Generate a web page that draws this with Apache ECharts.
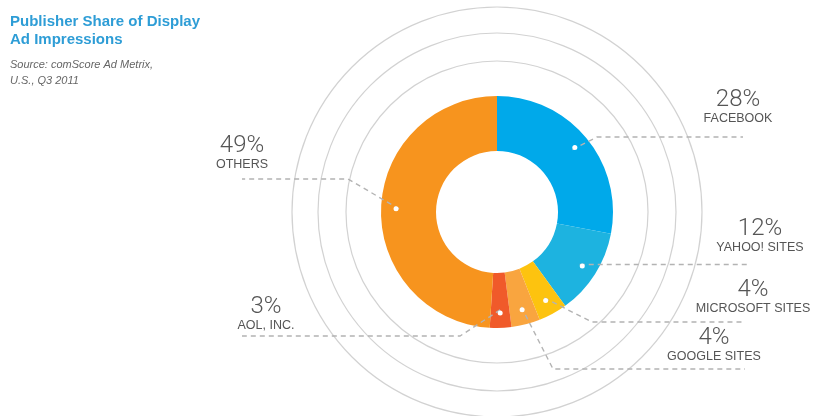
<!DOCTYPE html>
<html><head><meta charset="utf-8">
<script src="https://cdn.jsdelivr.net/npm/echarts@6/dist/echarts.min.js"></script>
<style>html,body{margin:0;padding:0;background:#fff}#c{width:814px;height:416px}</style>
</head><body><div id="c"></div>
<script>
const categories = ['FACEBOOK', 'YAHOO! SITES', 'MICROSOFT SITES', 'GOOGLE SITES', 'AOL, INC.', 'OTHERS'];
const shares = [28, 12, 4, 4, 3, 49];
const colors = ['#00A9EA', '#1DB3E0', '#FDC30F', '#F9A53F', '#F05A2A', '#F7941E'];

const CENTER = [497, 212];
const RADIUS = [61, 116];
const RING_RADII = [151, 179, 205];
// label layout offsets relative to the centre: [labelCenterX, labelBottomY, elbowX, lineY, lineEndX]
const LABEL_LAYOUT = [
  [241, -86, 100, -75, 246],
  [263, 43, null, null, 253],
  [256, 104, 95, 110, 248],
  [217, 152, 56, 157, 248],
  [-231, 121, -37, 124, -255],
  [-255, -40, -149, -33, -255]
];

const data = categories.map((c, i) => ({ name: c, value: shares[i], itemStyle: { color: colors[i] } }));
const ghost = categories.map((c, i) => ({ name: c, value: shares[i] }));

const chart = echarts.init(document.getElementById('c'), null, { renderer: 'canvas' });
chart.setOption({
  animation: false,
  backgroundColor: '#fff',
  title: {
    text: 'Publisher Share of Display\nAd Impressions',
    subtext: 'Source: comScore Ad Metrix,\nU.S., Q3 2011',
    left: 10, top: 13, itemGap: 8, padding: 0,
    textStyle: { color: '#2E9DD6', fontSize: 15, fontWeight: 'bold', lineHeight: 18, fontFamily: 'Liberation Sans' },
    subtextStyle: { color: '#666', fontSize: 11, fontStyle: 'italic', lineHeight: 16, fontFamily: 'Liberation Sans' }
  },
  graphic: RING_RADII.map(r => ({
    type: 'circle', silent: true, z: -1,
    shape: { cx: CENTER[0], cy: CENTER[1], r: r },
    style: { fill: 'none', stroke: '#d2d2d2', lineWidth: 1.2 }
  })),
  series: [
    {
      type: 'pie', center: CENTER, radius: RADIUS, startAngle: 90, clockwise: true, z: 2,
      silent: true, label: { show: false }, labelLine: { show: false },
      emphasis: { disabled: true }, itemStyle: { borderWidth: 0 },
      data: data
    },
    {
      type: 'pie', center: CENTER, radius: [0, 98], startAngle: 90, clockwise: true, z: 5,
      silent: true, emphasis: { disabled: true },
      itemStyle: { color: 'rgba(0,0,0,0)' },
      label: {
        show: true, position: 'outside',
        formatter: p => '{p|' + p.value + '%}\n{n|' + p.name + '}',
        rich: {
          p: { fontFamily: 'Roboto', fontWeight: 300, fontSize: 24, lineHeight: 24, color: '#555', align: 'center' },
          n: { fontFamily: 'Liberation Sans', fontSize: 12.5, lineHeight: 14, color: '#555', align: 'center' }
        }
      },
      labelLine: { show: true, length: 10, length2: 10, lineStyle: { color: '#b3b3b3', width: 1.4, type: [5, 4] } },
      labelLayout: function (p) {
        const L = LABEL_LAYOUT[p.dataIndex];
        const cx = CENTER[0], cy = CENTER[1];
        const start = p.labelLinePoints[0];
        let elbow, lineY;
        if (L[2] === null) { elbow = [start[0], start[1]]; lineY = start[1]; }
        else { elbow = [cx + L[2], cy + L[3]]; lineY = cy + L[3]; }
        return {
          x: cx + L[0], y: cy + L[1], align: 'center', verticalAlign: 'bottom',
          labelLinePoints: [start, elbow, [cx + L[4], lineY]]
        };
      },
      data: ghost
    },
    {
      type: 'pie', center: CENTER, radius: [80, 116], startAngle: 90, clockwise: true, z: 6,
      silent: true, emphasis: { disabled: true },
      itemStyle: { color: 'rgba(0,0,0,0)' },
      label: {
        show: true, position: 'inside', formatter: '{d| }',
        rich: { d: { width: 5, height: 5, borderRadius: 3, backgroundColor: '#fff', fontSize: 1 } }
      },
      labelLine: { show: false },
      data: ghost
    }
  ]
});
</script></body></html>
